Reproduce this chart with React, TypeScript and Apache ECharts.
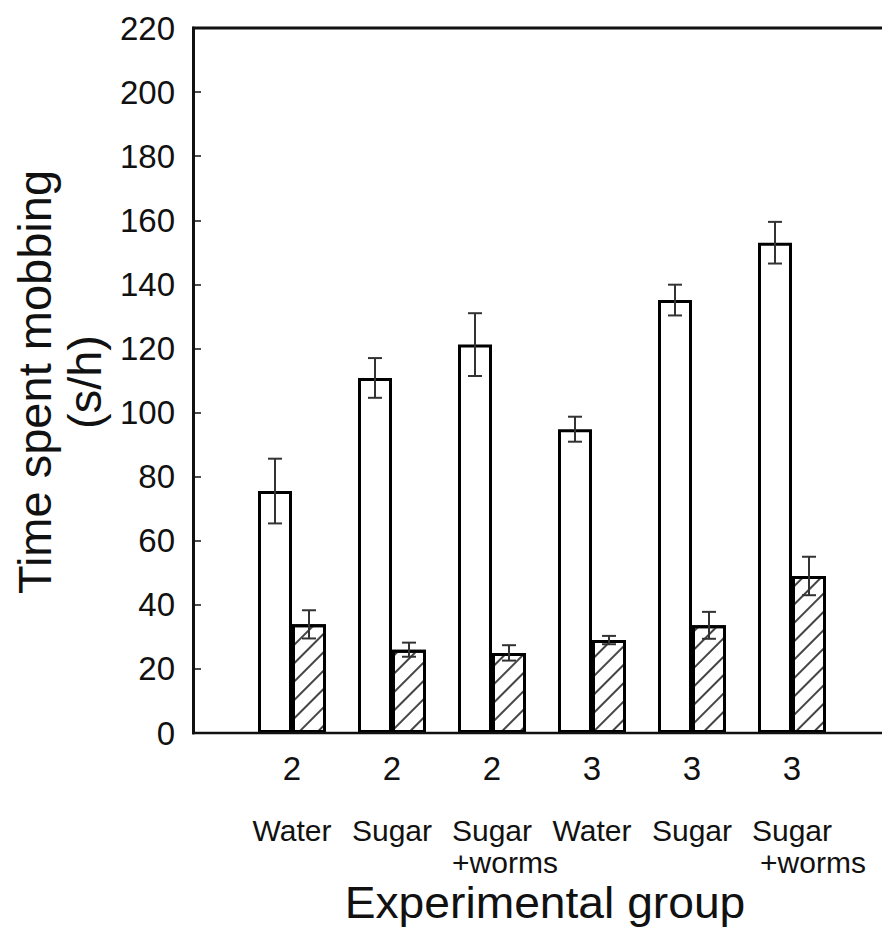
import React, { useEffect, useRef } from "react";
import * as echarts from "echarts";

const categories = ["Water", "Sugar", "Sugar+worms", "Water", "Sugar", "Sugar+worms"];
const groupNumbers = ["2", "2", "2", "3", "3", "3"];
const treatmentLine1 = ["Water", "Sugar", "Sugar", "Water", "Sugar", "Sugar"];
const treatmentLine2 = ["", "", "+worms", "", "", "+worms"];
const openValues = [75.5, 110.8, 121.2, 94.8, 135.1, 153.0];
const openErrors = [10.1, 6.2, 9.8, 3.9, 4.8, 6.5];
const hatchedValues = [33.9, 26.0, 25.0, 29.0, 33.6, 49.0];
const hatchedErrors = [4.4, 2.2, 2.4, 1.3, 4.2, 6.0];
const yTicks = { min: 0, max: 220, interval: 20 };

const FONT = "Liberation Sans, Arial, sans-serif";

export default function App() {
  const ref = useRef<HTMLDivElement>(null);
  useEffect(() => {
    if (!ref.current) return;
    const chart = echarts.init(ref.current, undefined, { renderer: "svg" });

    const errData = (vals: number[], errs: number[]) =>
      vals.map((v, i) => [i, v - errs[i], v + errs[i]]);

    const errSeries = (vals: number[], errs: number[], dx: number, name: string) => ({
      type: "custom",
      name,
      data: errData(vals, errs),
      z: 10,
      renderItem: (params: any, api: any) => {
        const c = api.value(0);
        const lo = api.coord([c, api.value(1)]);
        const hi = api.coord([c, api.value(2)]);
        const x = lo[0] + dx;
        const hw = 7;
        const style = { stroke: "#333", lineWidth: 2 };
        return {
          type: "group",
          children: [
            { type: "line", shape: { x1: x, y1: lo[1], x2: x, y2: hi[1] }, style },
            { type: "line", shape: { x1: x - hw, y1: hi[1], x2: x + hw, y2: hi[1] }, style },
            { type: "line", shape: { x1: x - hw, y1: lo[1], x2: x + hw, y2: lo[1] }, style },
          ],
        };
      },
    });

    const richLabels: any = {
      t: { fontSize: 30, lineHeight: 32, fontFamily: FONT, color: "#111" },
      w3: { fontSize: 30, lineHeight: 32, fontFamily: FONT, color: "#111", padding: [0, 0, 0, 26] },
      w6: { fontSize: 30, lineHeight: 32, fontFamily: FONT, color: "#111", padding: [0, 0, 0, 42] },
    };

    chart.setOption({
      animation: false,
      backgroundColor: "#fff",
      grid: { left: 242, right: 40, top: 28, bottom: 196 },
      xAxis: [
        {
          type: "category",
          data: categories,
          position: "bottom",
          axisLine: { show: false },
          axisTick: { show: false },
          axisLabel: {
            interval: 0,
            margin: 18,
            fontSize: 33,
            lineHeight: 34,
            fontFamily: FONT,
            color: "#111",
            formatter: (_v: string, i: number) => groupNumbers[i],
          },
        },
        {
          type: "category",
          data: categories,
          position: "bottom",
          gridIndex: 0,
          axisLine: { show: false },
          axisTick: { show: false },
          axisLabel: {
            interval: 0,
            margin: 81,
            fontFamily: FONT,
            color: "#111",
            rich: richLabels,
            formatter: (_v: string, i: number) => {
              let s = `{t|${treatmentLine1[i]}}`;
              if (treatmentLine2[i]) s += `\n{w${i + 1}|${treatmentLine2[i]}}`;
              return s;
            },
          },
        },
      ],
      yAxis: {
        type: "value",
        min: yTicks.min,
        max: yTicks.max,
        interval: yTicks.interval,
        offset: 49,
        axisLine: { show: true, lineStyle: { color: "#111", width: 3 } },
        axisTick: { show: true, inside: true, length: 8, lineStyle: { color: "#111", width: 1.5 } },
        splitLine: { show: false },
        axisLabel: { fontSize: 33, margin: 18, fontFamily: FONT, color: "#111" },
      },
      series: [
        {
          type: "bar",
          name: "open",
          data: openValues,
          barWidth: 34,
          barGap: "0%",
          itemStyle: { color: "#fff", borderColor: "#000", borderWidth: 3 },
        },
        {
          type: "bar",
          name: "hatched",
          data: hatchedValues,
          barWidth: 34,
          barGap: "0%",
          itemStyle: {
            color: "#fff",
            borderColor: "#000",
            borderWidth: 3,
            decal: {
              symbol: "rect",
              symbolSize: 1,
              dashArrayX: [1, 0],
              dashArrayY: [1.5, 10.5],
              rotation: -Math.PI / 4,
              color: "#444",
            },
          },
        },
        errSeries(openValues, openErrors, -17, "openErr"),
        errSeries(hatchedValues, hatchedErrors, 17, "hatchedErr"),
      ],
      graphic: [
        { type: "line", shape: { x1: 192, y1: 28, x2: 882, y2: 28 }, style: { stroke: "#111", lineWidth: 3 }, z: 100 },
        { type: "line", shape: { x1: 192, y1: 733, x2: 882, y2: 733 }, style: { stroke: "#111", lineWidth: 2.5 }, z: 100 },
        {
          type: "text",
          x: 34,
          y: 382,
          rotation: Math.PI / 2,
          style: { text: "Time spent mobbing", fontSize: 47, fontFamily: FONT, fill: "#111", align: "center", verticalAlign: "middle" },
        },
        {
          type: "text",
          x: 84,
          y: 382,
          rotation: Math.PI / 2,
          style: { text: "(s/h)", fontSize: 47, fontFamily: FONT, fill: "#111", align: "center", verticalAlign: "middle" },
        },
        {
          type: "text",
          x: 545,
          y: 903,
          scaleX: 1.05,
          style: { text: "Experimental group", fontSize: 44, fontFamily: FONT, fill: "#111", align: "center", verticalAlign: "middle" },
        },
      ],
    });
    return () => chart.dispose();
  }, []);
  return (
    <div
      ref={ref}
      style={{ position: "fixed", left: 0, top: 0, width: 882, height: 929, background: "#fff" }}
    />
  );
}
